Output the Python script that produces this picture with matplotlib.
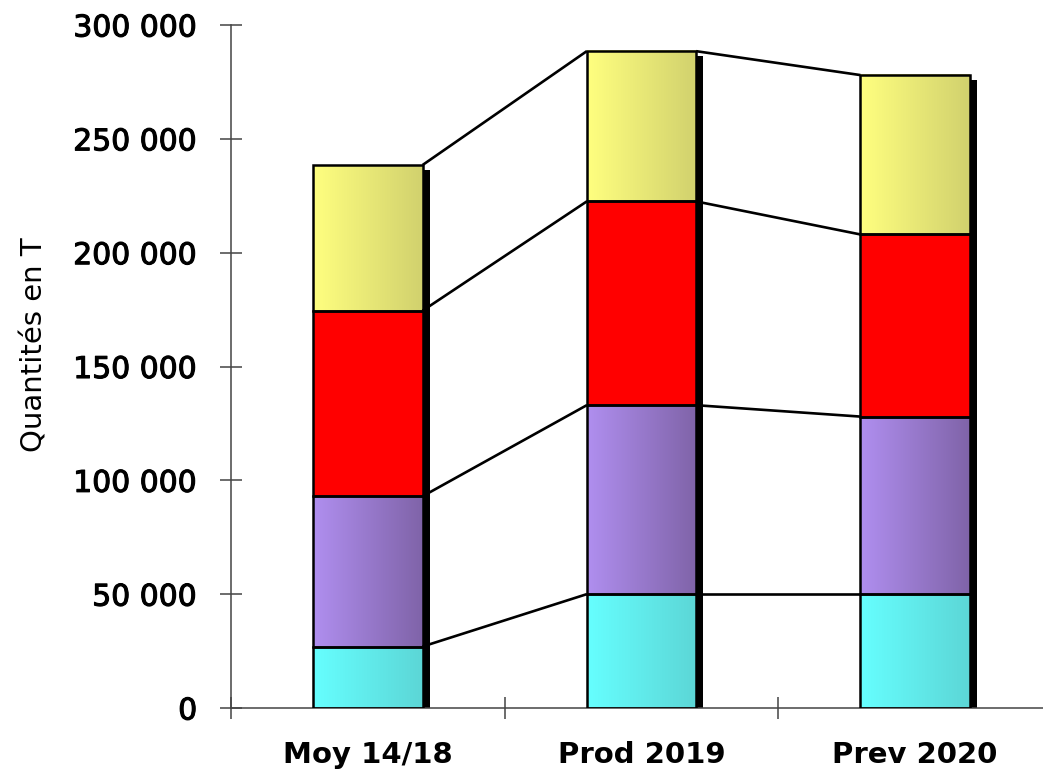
import numpy as np
import matplotlib
matplotlib.use("Agg")
import matplotlib.pyplot as plt
import matplotlib.patheffects as pe
from matplotlib.patches import Rectangle
from matplotlib.ticker import FuncFormatter, FixedLocator

categories = ["Moy 14/18", "Prod 2019", "Prev 2020"]
cyan_vals = [27000, 50000, 50000]
purple_vals = [66000, 83000, 78000]
red_vals = [81500, 89500, 80000]
yellow_vals = [64000, 66000, 70000]
y_ticks = [0, 50000, 100000, 150000, 200000, 250000, 300000]
ylabel = "Quantités en T"

series = [cyan_vals, purple_vals, red_vals, yellow_vals]
grad_colors = [
    ((0.40, 1.00, 1.00), (0.36, 0.84, 0.84)),
    ((0.69, 0.56, 0.94), (0.50, 0.39, 0.66)),
    ((1.00, 0.00, 0.00), (1.00, 0.00, 0.00)),
    ((1.00, 1.00, 0.50), (0.82, 0.82, 0.43)),
]

W, H = 1043, 775
fig = plt.figure(figsize=(W / 100, H / 100), dpi=100)
ax = fig.add_axes([231 / W, (H - 708) / H, (1052 - 231) / W, (708 - 25) / H])

x = np.arange(len(categories))
bw = 0.40
ymax = 300000
ax.set_xlim(-0.5, len(categories) - 0.5)
ax.set_ylim(0, ymax)

# pixel -> data conversions for shadow offsets
dx_px = (len(categories)) / (1052 - 231)
dy_px = ymax / (708 - 25)

totals = np.sum(np.array(series), axis=0)

# shadows
for i in range(len(categories)):
    ax.add_patch(Rectangle((x[i] - bw / 2 + 7 * dx_px, 0), bw, totals[i] - 5 * dy_px,
                           facecolor="black", edgecolor="none", zorder=1))

bottoms = np.zeros(len(categories))
levels = []
for s, (c0, c1) in zip(series, grad_colors):
    vals = np.array(s, dtype=float)
    grad = np.linspace(0, 1, 256)
    img = np.zeros((1, 256, 3))
    for k in range(3):
        img[0, :, k] = c0[k] + (c1[k] - c0[k]) * grad
    for i in range(len(categories)):
        x0 = x[i] - bw / 2
        ax.imshow(img, extent=(x0, x0 + bw, bottoms[i], bottoms[i] + vals[i]),
                  aspect="auto", interpolation="bilinear", zorder=2)
        ax.add_patch(Rectangle((x0, bottoms[i]), bw, vals[i], facecolor="none",
                               edgecolor="black", linewidth=1.8, zorder=3))
    bottoms = bottoms + vals
    levels.append(bottoms.copy())

# connecting lines
for lv in levels:
    for i in range(len(categories) - 1):
        ax.plot([x[i] + bw / 2, x[i + 1] - bw / 2], [lv[i], lv[i + 1]],
                color="black", linewidth=1.9, zorder=3, solid_capstyle="butt")

ax.set_xlim(-0.5, len(categories) - 0.5)
ax.set_ylim(0, ymax)

for sp in ["top", "right"]:
    ax.spines[sp].set_visible(False)
for sp in ["left", "bottom"]:
    ax.spines[sp].set_color("#444444")
    ax.spines[sp].set_linewidth(1.1)

ax.yaxis.set_major_locator(FixedLocator(y_ticks))
ax.yaxis.set_major_formatter(FuncFormatter(lambda v, p: f"{int(v):,}".replace(",", " ")))
ax.tick_params(axis="y", direction="inout", length=16.5, width=1.1, color="#444444",
               pad=16, labelsize=21.5)
for lab in ax.get_yticklabels():
    lab.set_fontfamily("DejaVu Sans")
    lab.set_path_effects([pe.withStroke(linewidth=0.8, foreground="black")])

ax.set_xticks(x)
ax.set_xticklabels(categories, fontsize=21, fontweight="bold", family="DejaVu Sans")
ax.set_xticks(np.arange(-0.5, len(categories)), minor=True)
ax.tick_params(axis="x", which="major", length=0, pad=24)
ax.tick_params(axis="x", which="minor", direction="inout", length=16.5, width=1.1,
               color="#444444")

fig.text(35 / W, 1 - 345 / H, ylabel, rotation=90, ha="center", va="center",
         fontsize=21, family="DejaVu Sans")

fig.savefig("out.png", dpi=100)
